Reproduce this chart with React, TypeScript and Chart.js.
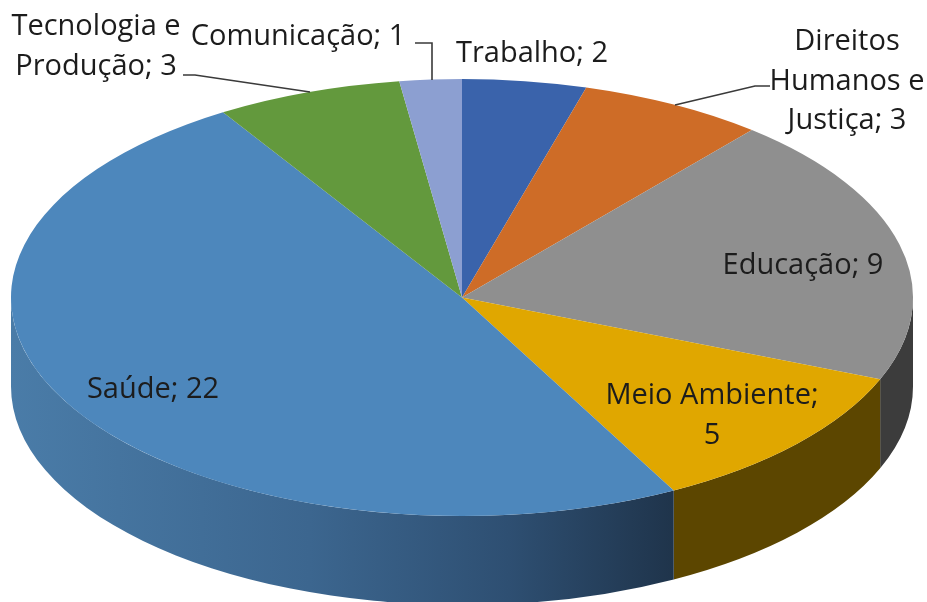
import React, { useEffect, useRef } from "react";
import { Chart, registerables } from "chart.js";

Chart.register(...registerables);

const categories = ["Trabalho", "Direitos Humanos e Justiça", "Educação", "Meio Ambiente", "Saúde", "Tecnologia e Produção", "Comunicação"];
const values = [2, 3, 9, 5, 22, 3, 1];
const topColors = ["#3A63AB", "#CE6C27", "#8F8F8F", "#E0A700", "#4D87BC", "#63993D", "#8C9FD1"];

const DEPTH = 89;
const RX = 451;
const FONT = '29px "Open Sans", sans-serif';
const TEXT = "#1c1c1c";
const LINE_GAP = 39.5;

// centre x, first-line baseline y, and line breaks per slice label
const labelLayout = [
  { lines: (t: string) => [t], x: 532, y: 62 },
  { lines: () => ["Direitos", "Humanos e", "Justiça; 3"], x: 847, y: 50 },
  { lines: (t: string) => [t], x: 803, y: 274 },
  { lines: () => ["Meio Ambiente;", "5"], x: 712, y: 404 },
  { lines: (t: string) => [t], x: 153, y: 398 },
  { lines: () => ["Tecnologia e", "Produção; 3"], x: 96, y: 35 },
  { lines: (t: string) => [t], x: 298, y: 45 },
];

const leaders = [
  [[183, 75], [195, 75], [310, 92]],
  [[415, 43], [432, 43], [432, 80]],
  [[770, 86], [755, 86], [675, 105]],
];

const sideFill = (ctx: CanvasRenderingContext2D, i: number, cx: number, rx: number) => {
  if (i === 4) {
    const g = ctx.createLinearGradient(cx - rx, 0, 674, 0);
    g.addColorStop(0, "#4A7CA8");
    g.addColorStop(0.45, "#3C668F");
    g.addColorStop(0.75, "#2E4F72");
    g.addColorStop(1, "#1F344B");
    return g;
  }
  if (i === 3) return "#5C4600";
  if (i === 2) return "#3C3C3C";
  return topColors[i];
};

const pie3d = {
  id: "pie3d",
  beforeDatasetsDraw(chart: any) {
    const ctx: CanvasRenderingContext2D = chart.ctx;
    const arcs = chart.getDatasetMeta(0).data;
    arcs.forEach((arc: any, i: number) => {
      const a0 = Math.max(arc.startAngle, 0);
      const a1 = Math.min(arc.endAngle, Math.PI);
      if (a1 <= a0) return;
      const ry = arc.outerRadius;
      ctx.beginPath();
      ctx.ellipse(arc.x, arc.y, RX, ry, 0, a0, a1, false);
      ctx.ellipse(arc.x, arc.y + DEPTH, RX, ry, 0, a1, a0, true);
      ctx.closePath();
      ctx.fillStyle = sideFill(ctx, i, arc.x, RX);
      ctx.fill();
    });
    const first = arcs[0];
    ctx.save();
    ctx.translate(first.x, first.y);
    ctx.scale(RX / first.outerRadius, 1);
    ctx.translate(-first.x, -first.y);
  },
  afterDatasetsDraw(chart: any) {
    const ctx: CanvasRenderingContext2D = chart.ctx;
    ctx.restore();
    ctx.save();
    ctx.strokeStyle = "#3a3a3a";
    ctx.lineWidth = 1.6;
    leaders.forEach((pts) => {
      ctx.beginPath();
      pts.forEach(([x, y], k) => (k ? ctx.lineTo(x, y) : ctx.moveTo(x, y)));
      ctx.stroke();
    });
    ctx.font = FONT;
    ctx.fillStyle = TEXT;
    ctx.textAlign = "center";
    ctx.textBaseline = "alphabetic";
    categories.forEach((c, i) => {
      const l = labelLayout[i];
      l.lines(`${c}; ${values[i]}`).forEach((t, k) => {
        ctx.fillText(t, l.x, l.y + k * LINE_GAP);
      });
    });
    ctx.restore();
  },
};

export default function App() {
  const ref = useRef<HTMLCanvasElement>(null);
  useEffect(() => {
    const chart = new Chart(ref.current!, {
      type: "pie",
      data: {
        labels: categories,
        datasets: [{ data: values, backgroundColor: topColors, borderWidth: 0 }],
      },
      options: {
        responsive: false,
        animation: false,
        layout: { padding: { top: 79, bottom: 86, left: 0, right: 3 } },
        plugins: { legend: { display: false }, tooltip: { enabled: false } },
      },
      plugins: [pie3d],
    } as any);
    return () => chart.destroy();
  }, []);
  return (
    <div style={{ position: "absolute", left: 0, top: 0, width: 927, height: 602, background: "#fff" }}>
      <canvas ref={ref} width={927} height={602} style={{ display: "block", filter: "blur(0.5px)" }} />
    </div>
  );
}
